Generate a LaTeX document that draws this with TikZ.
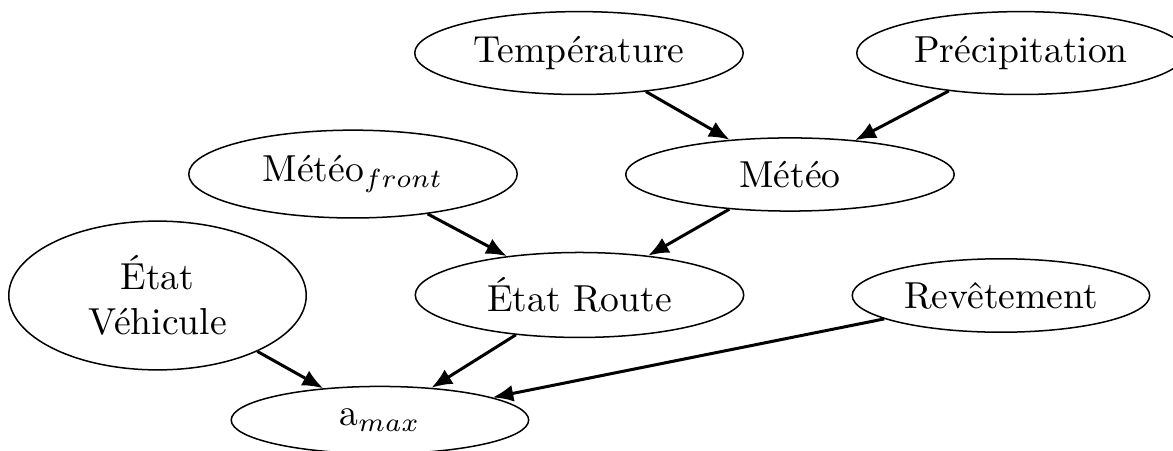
\documentclass[tikz,border=0pt]{standalone}
\usepackage{amsfonts, amssymb, amsmath}
\usepackage{tikz}
\usetikzlibrary{shapes.geometric, arrows.meta}

\begin{document}
\begin{tikzpicture}[
    var/.style={ellipse, draw, inner xsep=1pt, minimum width=3.07cm},
    varpetit/.style={var, minimum width=2.78cm},
    fleche/.style={thick, -{Latex[length=5.5pt, width=4.5pt]}}
]
    \useasboundingbox (0, 0) rectangle (10.963, 4.206);

    % Niveau 1 : causes meteo
    \node[var] (temp) at (5.411, 3.710) {Température};
    \node[var] (precip) at (9.542, 3.710) {Précipitation};

    % Niveau 2
    \node[var] (meteofront) at (3.299, 2.579) {Météo$_{front}$};
    \node[var] (meteo) at (7.383, 2.575) {Météo};

    % Niveau 3
    \node[varpetit, align=center] (vehicule) at (1.472, 1.444) {État\\Véhicule};
    \node[var] (route) at (5.416, 1.449) {État Route};
    \node[varpetit] (revet) at (9.355, 1.444) {Revêtement};

    % Niveau 4
    \node[varpetit] (amax) at (3.551, 0.280) {a$_{max}$};

    % Arcs
    \draw[fleche] (temp) -- (meteo);
    \draw[fleche] (precip) -- (meteo);
    \draw[fleche] (meteofront) -- (route);
    \draw[fleche] (meteo) -- (route);
    \draw[fleche] (vehicule) -- (amax);
    \draw[fleche] (route) -- (amax);
    \draw[fleche] (revet) -- (amax);
\end{tikzpicture}
\end{document}
